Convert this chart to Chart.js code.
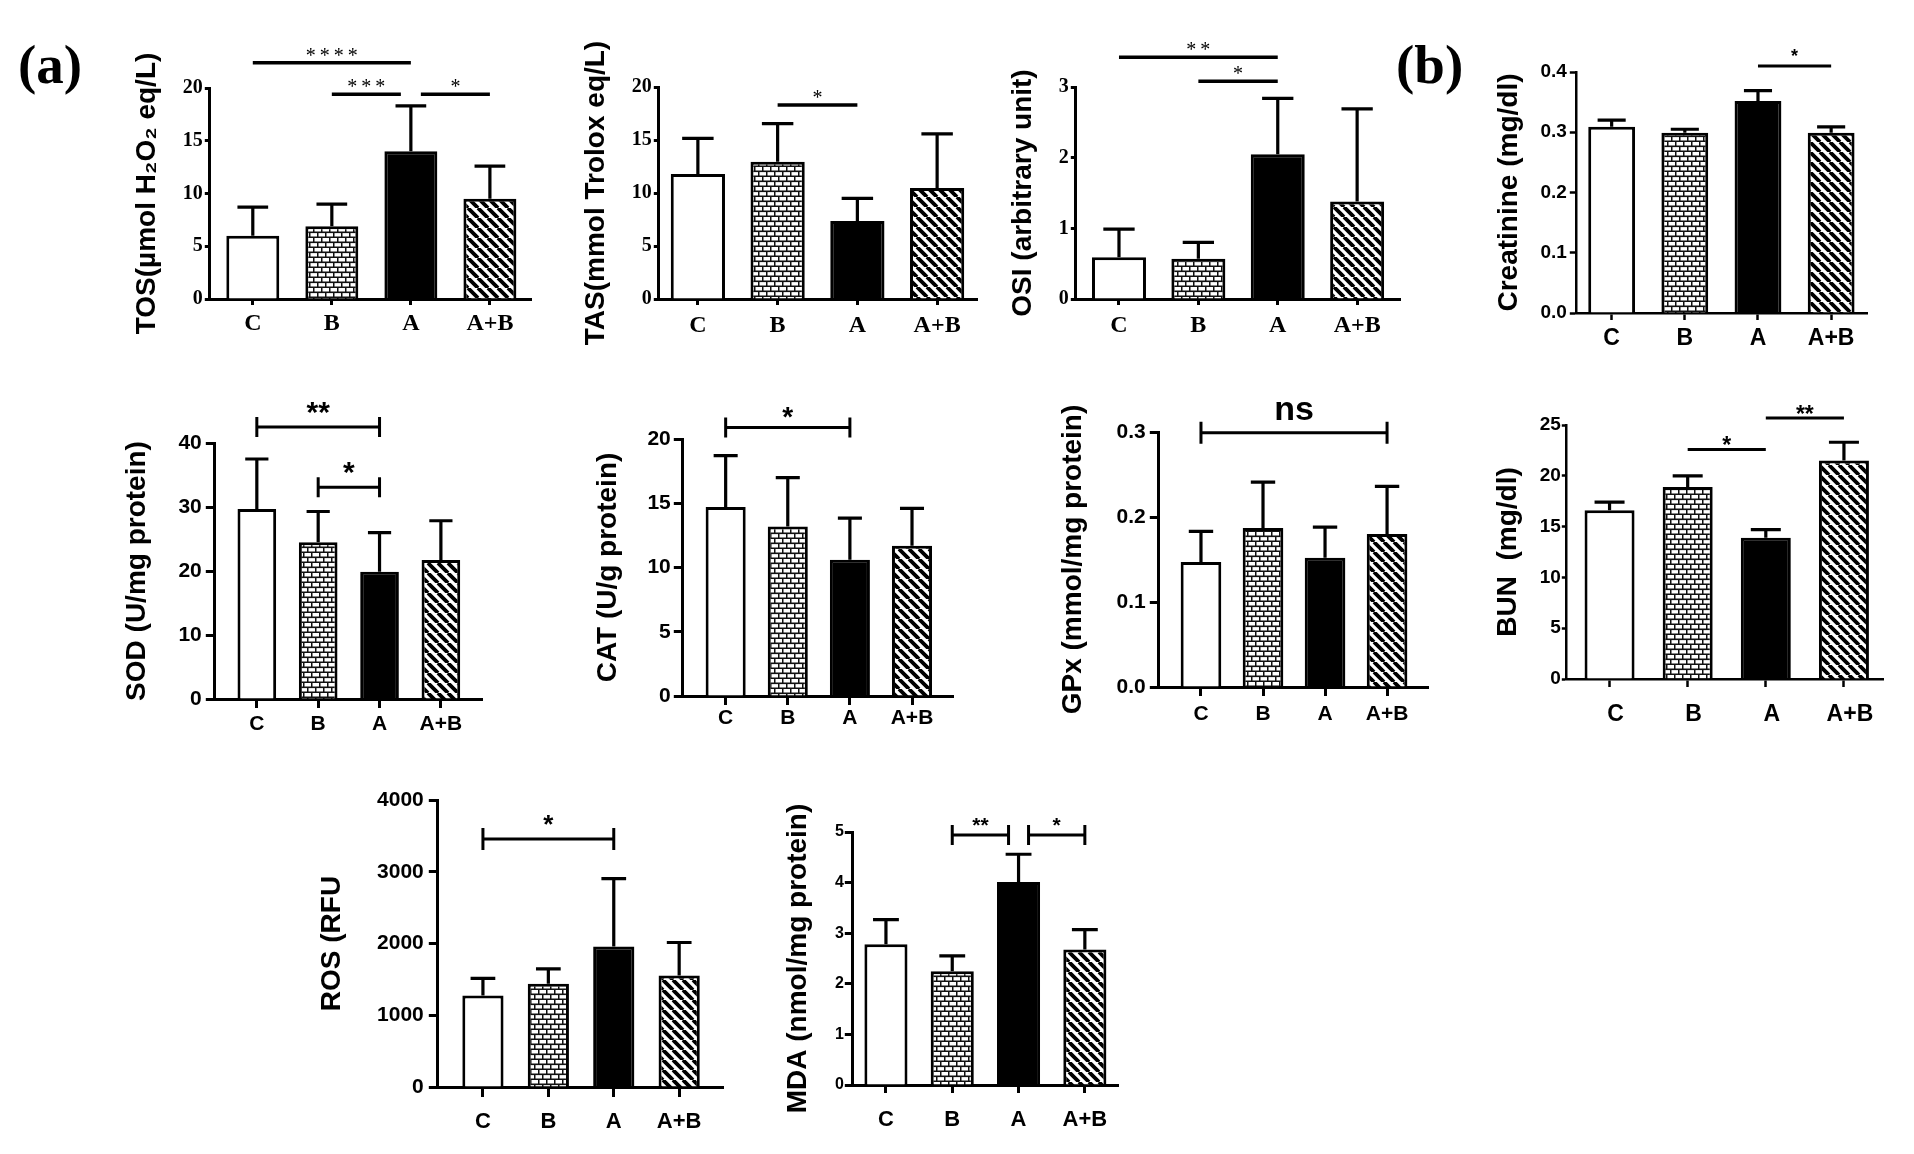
<!DOCTYPE html>
<html>
<head>
<meta charset="utf-8">
<script src="https://cdn.jsdelivr.net/npm/chart.js@4.4.1/dist/chart.umd.min.js"></script>
<style>
  body { margin: 0; background: #fff; width: 1914px; height: 1154px; position: relative; overflow: hidden; }
  canvas { position: absolute; }
  .tag { position: absolute; margin: 0; font: bold 55px 'Liberation Serif', 'Times New Roman', serif; line-height: 1; color: #000; }
</style>
</head>
<body>
<div class="tag" style="left:18px; top:37px">(a)</div>
<div class="tag" style="left:1396px; top:37px">(b)</div>
<script>
const groups = ['C', 'B', 'A', 'A+B'];

// oxidative stress
const tosMean = [6.0, 6.9, 14.0, 9.5];
const tosSd = [2.7, 2.1, 4.3, 3.1];
const tosTicks = [0, 5, 10, 15, 20];
const tosSig = [[0, 2, 22.4, '****'], [1, 2, 19.4, '***'], [2, 3, 19.4, '*']];

const tasMean = [11.8, 12.95, 7.35, 10.47];
const tasSd = [3.35, 3.6, 2.15, 5.1];
const tasTicks = [0, 5, 10, 15, 20];
const tasSig = [[1, 2, 18.3, '*']];

const osiMean = [0.59, 0.57, 2.05, 1.38];
const osiSd = [0.40, 0.23, 0.79, 1.31];
const osiTicks = [0, 1, 2, 3];
const osiSig = [[0, 2, 3.42, '**'], [1, 2, 3.08, '*']];

// kidney
const creMean = [0.309, 0.299, 0.352, 0.299];
const creSd = [0.011, 0.006, 0.017, 0.010];
const creTicks = [0, 0.1, 0.2, 0.3, 0.4];
const creSig = [[2, 3, 0.41, '*']];

const bunMean = [16.6, 18.9, 13.9, 21.5];
const bunSd = [0.8, 1.1, 0.8, 1.8];
const bunTicks = [0, 5, 10, 15, 20, 25];
const bunSig = [[1, 2, 22.6, '*'], [2, 3, 25.7, '**']];

// enzymes
const sodMean = [29.7, 24.5, 19.9, 21.7];
const sodSd = [7.8, 4.8, 6.1, 6.15];
const sodTicks = [0, 10, 20, 30, 40];
const sodSig = [[0, 2, 42.5, '**'], [1, 2, 33.1, '*']];

const catMean = [14.7, 13.2, 10.6, 11.7];
const catSd = [4.0, 3.8, 3.25, 2.9];
const catTicks = [0, 5, 10, 15, 20];
const catSig = [[0, 2, 20.9, '*']];

const gpxMean = [0.147, 0.187, 0.152, 0.180];
const gpxSd = [0.036, 0.054, 0.036, 0.056];
const gpxTicks = [0, 0.1, 0.2, 0.3];
const gpxSig = [[0, 3, 0.299, 'ns']];

const rosMean = [1276, 1439, 1958, 1555];
const rosSd = [237, 208, 947, 459];
const rosTicks = [0, 1000, 2000, 3000, 4000];
const rosSig = [[0, 2, 3456, '*']];

const mdaMean = [2.78, 2.25, 4.01, 2.68];
const mdaSd = [0.49, 0.30, 0.55, 0.39];
const mdaTicks = [0, 1, 2, 3, 4, 5];
const mdaSig = [[1, 2, 4.94, '**'], [2, 3, 4.94, '*']];

const serif = "'Liberation Serif', 'Times New Roman', serif";
const sans = "'Liberation Sans', Arial, sans-serif";
const narrow = "'Liberation Sans Narrow', 'Arial Narrow', 'Liberation Sans', sans-serif";

function brick() {
    const c = document.createElement('canvas');
    c.width = 8; c.height = 10;
    const g = c.getContext('2d');
    g.fillStyle = '#fff';
    g.fillRect(0, 0, 8, 10);
    g.fillStyle = '#111';
    g.fillRect(0, 3.5, 8, 1.6);
    g.fillRect(0, 8.5, 8, 1.6);
    g.fillRect(1, 0, 1.5, 4);
    g.fillRect(5, 5, 1.5, 4);
    return g.createPattern(c, 'repeat');
}

function stripes() {
    const s = 10;
    const c = document.createElement('canvas');
    c.width = s; c.height = s;
    const g = c.getContext('2d');
    g.fillStyle = '#fff';
    g.fillRect(0, 0, s, s);
    g.strokeStyle = '#000';
    g.lineWidth = 3.8;
    g.beginPath();
    for (let k = -1; k <= 1; k++) {
        g.moveTo(k * s, 0);
        g.lineTo(k * s + s, s);
    }
    g.stroke();
    return g.createPattern(c, 'repeat');
}

const fills = ['#fff', brick(), '#000', stripes()];

// panel styles
const TOP = {
    tickFont: { family: serif, size: 20, weight: 'bold' }, yTick: 5, yPad: 2,
    catFont: { family: serif, size: 24, weight: 'bold' }, xTick: 6, catPad: 4,
    lw: 3, sigW: 3.5, caps: false, starFont: `20px ${serif}`, spacing: 4, starBase: 1, cap: 0.58
};
const MID = {
    tickFont: { family: sans, size: 21, weight: 'bold' }, yTick: 9, yPad: 4,
    catFont: { family: sans, size: 21, weight: 'bold' }, xTick: 9, catPad: 4,
    lw: 3, sigW: 3, caps: true, capH: 10, starFont: `bold 28px ${sans}`, spacing: 0, starBase: 3, cap: 0.6
};
const KIDNEY = {
    tickFont: { family: narrow, size: 19, weight: 'bold' }, yTick: 6, yPad: 3,
    catFont: { family: sans, size: 23, weight: 'bold' }, xTick: 7, catPad: 5,
    lw: 2.5, sigW: 3, caps: false, starFont: `bold 18px ${sans}`, spacing: 0, starBase: 4, cap: 0.6
};

const panels = [
    { ...TOP, title: 'TOS(µmol H₂O₂ eq/L)', mean: tosMean, sd: tosSd, ticks: tosTicks, sig: tosSig,
      ax: 210, top: 88, bottom: 299, right: 531, titleX: 147, xMin: -0.544, xMax: 3.52, bar: 0.67 },
    { ...TOP, title: 'TAS(mmol Trolox eq/L)', mean: tasMean, sd: tasSd, ticks: tasTicks, sig: tasSig,
      ax: 659, top: 87, bottom: 299, right: 977, titleX: 596, xMin: -0.49, xMax: 3.5, bar: 0.68, catPad: 6 },
    { ...TOP, title: 'OSI (arbitrary unit)', mean: osiMean, sd: osiSd, ticks: osiTicks, sig: osiSig,
      ax: 1076, top: 87, bottom: 299, right: 1400, titleX: 1023, xMin: -0.544, xMax: 3.54, bar: 0.68, catPad: 6 },
    { ...KIDNEY, title: 'Creatinine (mg/dl)', mean: creMean, sd: creSd, ticks: creTicks, sig: creSig, dec: 1,
      ax: 1576, top: 72, bottom: 313, right: 1867, titleX: 1509, xMin: -0.49, xMax: 3.49, bar: 0.64 },
    { ...MID, title: 'SOD (U/mg protein)', mean: sodMean, sd: sodSd, ticks: sodTicks, sig: sodSig,
      ax: 215, top: 443, bottom: 699, right: 482, titleX: 137, xMin: -0.685, xMax: 3.67, bar: 0.63,
      catPad: 4, starFont: `bold 30px ${sans}`, starBase: 5 },
    { ...MID, title: 'CAT (U/g protein)', mean: catMean, sd: catSd, ticks: catTicks, sig: catSig,
      ax: 683, top: 439, bottom: 696, right: 953, titleX: 608, xMin: -0.69, xMax: 3.66, bar: 0.645,
      catPad: 1, yPad: 3, starBase: 1 },
    { ...MID, title: 'GPx (mmol/mg protein)', mean: gpxMean, sd: gpxSd, ticks: gpxTicks, sig: gpxSig, dec: 1,
      ax: 1159, top: 432, bottom: 687, right: 1428, titleX: 1073, xMin: -0.68, xMax: 3.66, bar: 0.655,
      catPad: 6, starFont: `bold 34px ${sans}`, starBase: 13, capH: 11 },
    { ...KIDNEY, title: 'BUN  (mg/dl)', mean: bunMean, sd: bunSd, ticks: bunTicks, sig: bunSig,
      ax: 1566, top: 425, bottom: 679, right: 1883, titleX: 1508, xMin: -0.56, xMax: 3.5, bar: 0.64,
      catFont: { family: sans, size: 23, weight: 'bold' }, catPad: 14, labelOffset: 6, xTick: 8, yTick: 4, yPad: 1,
      starFont: `bold 23px ${sans}`, starBase: -4 },
    { ...MID, title: 'ROS (RFU', mean: rosMean, sd: rosSd, ticks: rosTicks, sig: rosSig,
      ax: 438, top: 800, bottom: 1087, right: 723, titleX: 332, xMin: -0.69, xMax: 3.67, bar: 0.63,
      catFont: { family: sans, size: 22, weight: 'bold' }, catPad: 12, xTick: 10, yPad: 5,
      starFont: `bold 26px ${sans}`, starBase: 6, capH: 11 },
    { ...MID, title: 'MDA (nmol/mg protein)', mean: mdaMean, sd: mdaSd, ticks: mdaTicks, sig: mdaSig,
      ax: 853, top: 832, bottom: 1085, right: 1118, titleX: 798, xMin: -0.5, xMax: 3.5, bar: 0.65,
      tickFont: { family: narrow, size: 16, weight: 'bold' }, yTick: 8, yPad: 1,
      catFont: { family: sans, size: 22, weight: 'bold' }, catPad: 14, xTick: 8,
      starFont: `bold 21px ${sans}`, starBase: 3 }
];

function makePanel(p) {
    const padTop = 90, padRight = 12, xH = 64, titleSize = 28;
    const left = p.titleX - 0.6 * titleSize - 2;
    const yW = p.ax - left;
    const canvas = document.createElement('canvas');
    canvas.width = Math.round(p.right - left + padRight);
    canvas.height = Math.round(p.bottom - p.top + padTop + xH);
    canvas.style.left = left + 'px';
    canvas.style.top = (p.top - padTop) + 'px';
    document.body.appendChild(canvas);

    // one-sided SD bars
    const errorBars = {
        id: 'errorBars',
        afterDatasetsDraw(chart) {
            const { ctx } = chart;
            const y = chart.scales.y;
            ctx.save();
            ctx.strokeStyle = '#000';
            ctx.lineWidth = 3.2;
            chart.getDatasetMeta(0).data.forEach((bar, i) => {
                const top = y.getPixelForValue(p.mean[i] + p.sd[i]);
                const half = bar.width * p.cap / 2;
                ctx.beginPath();
                ctx.moveTo(bar.x, bar.y);
                ctx.lineTo(bar.x, top);
                ctx.moveTo(bar.x - half, top);
                ctx.lineTo(bar.x + half, top);
                ctx.stroke();
            });
            ctx.restore();
        }
    };

    // significance lines and stars
    const sigBars = {
        id: 'sigBars',
        afterDraw(chart) {
            const { ctx } = chart;
            const { x, y } = chart.scales;
            const gap = 10;
            ctx.save();
            ctx.strokeStyle = '#000';
            ctx.fillStyle = '#000';
            ctx.lineWidth = p.sigW;
            ctx.font = p.starFont;
            ctx.textAlign = 'center';
            ctx.textBaseline = 'alphabetic';
            if (p.spacing) ctx.letterSpacing = p.spacing + 'px';
            p.sig.forEach((s, n) => {
                const [a, b, v, label] = s;
                const meets = k => p.sig.some((o, m) => m !== n && o[2] === v && (o[0] === k || o[1] === k));
                const x1 = x.getPixelForValue(a) + (meets(a) ? gap : 0);
                const x2 = x.getPixelForValue(b) - (meets(b) ? gap : 0);
                const yy = y.getPixelForValue(v);
                ctx.beginPath();
                ctx.moveTo(x1, yy);
                ctx.lineTo(x2, yy);
                if (p.caps) {
                    ctx.moveTo(x1, yy - p.capH); ctx.lineTo(x1, yy + p.capH);
                    ctx.moveTo(x2, yy - p.capH); ctx.lineTo(x2, yy + p.capH);
                }
                ctx.stroke();
                ctx.fillText(label, (x1 + x2) / 2 + (p.spacing || 0) / 2, yy - p.starBase);
            });
            ctx.restore();
        }
    };

    new Chart(canvas, {
        type: 'bar',
        data: {
            datasets: [{
                data: p.mean.map((v, i) => ({ x: i, y: v })),
                backgroundColor: fills,
                borderColor: '#000',
                borderWidth: 3,
                barPercentage: p.bar,
                categoryPercentage: 1
            }]
        },
        options: {
            responsive: false,
            animation: false,
            layout: { padding: { top: padTop, right: padRight, left: 0, bottom: 0 } },
            plugins: { legend: { display: false }, tooltip: { enabled: false } },
            scales: {
                x: {
                    type: 'linear',
                    min: p.xMin,
                    max: p.xMax,
                    offset: false,
                    z: 1,
                    afterBuildTicks: s => { s.ticks = groups.map((_, i) => ({ value: i })); },
                    afterFit: s => { s.height = xH; },
                    border: { display: true, color: '#000', width: p.lw },
                    grid: { display: true, offset: false, drawOnChartArea: false, tickLength: p.xTick,
                            tickWidth: p.lw, tickColor: '#000', color: '#000' },
                    ticks: { color: '#000', font: p.catFont, padding: p.catPad, labelOffset: p.labelOffset || 0,
                             maxRotation: 0, autoSkip: false, callback: v => groups[v] }
                },
                y: {
                    type: 'linear',
                    min: p.ticks[0],
                    max: p.ticks[p.ticks.length - 1],
                    z: 1,
                    afterBuildTicks: s => { s.ticks = p.ticks.map(v => ({ value: v })); },
                    afterFit: s => { s.width = yW; },
                    border: { display: true, color: '#000', width: p.lw },
                    grid: { display: true, drawOnChartArea: false, tickLength: p.yTick,
                            tickWidth: p.lw, tickColor: '#000', color: '#000' },
                    ticks: { color: '#000', font: p.tickFont, padding: p.yPad,
                             callback: v => p.dec ? v.toFixed(p.dec) : String(v) },
                    title: { display: true, text: p.title, color: '#000',
                             font: { family: sans, size: titleSize, weight: 'bold' },
                             padding: { top: 2, bottom: 0 } }
                }
            }
        },
        plugins: [errorBars, sigBars]
    });
}

panels.forEach(makePanel);
</script>
</body>
</html>
